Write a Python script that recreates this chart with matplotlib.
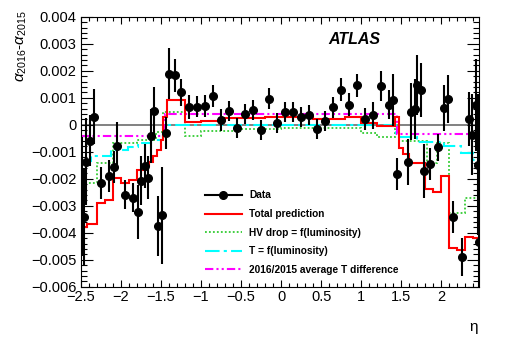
import numpy as np
import matplotlib
matplotlib.use('Agg')
import matplotlib.pyplot as plt
from matplotlib.lines import Line2D
from matplotlib.ticker import MultipleLocator, FuncFormatter

plt.rcParams['font.family'] = ['Liberation Sans', 'DejaVu Sans']
plt.rcParams['mathtext.fontset'] = 'custom'
plt.rcParams['mathtext.rm'] = 'Liberation Sans'
plt.rcParams['mathtext.it'] = 'Liberation Sans:italic'

# data points (eta, alpha2016-alpha2015 in units of 1e-3, error)
eta = [-2.48, -2.46, -2.44, -2.38, -2.33, -2.25, -2.15, -2.08, -2.05, -1.95,
       -1.85, -1.78, -1.75, -1.70, -1.66, -1.62, -1.58, -1.53, -1.49, -1.44,
       -1.40, -1.33, -1.25, -1.15, -1.05, -0.95, -0.85, -0.75, -0.65, -0.55,
       -0.45, -0.35, -0.25, -0.15, -0.05, 0.05, 0.15, 0.25, 0.35, 0.45,
       0.55, 0.65, 0.75, 0.85, 0.95, 1.05, 1.15, 1.25, 1.35, 1.40,
       1.45, 1.58, 1.62, 1.67, 1.70, 1.75, 1.79, 1.86, 1.96, 2.04,
       2.08, 2.15, 2.26, 2.35, 2.39, 2.43, 2.465, 2.475]
val = [-2.65, -3.42, -1.36, -0.58, 0.31, -2.16, -1.89, -1.57, -0.78, -2.58,
       -2.69, -3.22, -2.06, -1.52, -1.95, -0.42, 0.52, -3.75, -3.35, -0.31,
       1.89, 1.83, 1.21, 0.67, 0.68, 0.69, 1.07, 0.19, 0.52, -0.12,
       0.41, 0.56, -0.19, 0.97, 0.06, 0.46, 0.49, 0.28, 0.37, -0.17,
       0.15, 0.65, 1.30, 0.75, 1.47, 0.22, 0.36, 1.44, 0.75, 0.92,
       -1.83, -1.36, 0.49, 0.59, 1.48, 1.30, -1.72, -1.44, -0.82, 0.64,
       0.96, -3.42, -4.90, 0.21, -0.37, 0.75, -1.47, -4.32]
err = [2.2, 1.8, 1.6, 0.95, 1.0, 0.6, 0.6, 0.6, 0.9, 0.55,
       0.55, 1.0, 0.9, 0.8, 0.8, 1.0, 0.9, 1.1, 1.8, 0.6,
       0.94, 0.6, 0.5, 0.45, 0.4, 0.4, 0.42, 0.4, 0.37, 0.37,
       0.37, 0.37, 0.37, 0.4, 0.37, 0.37, 0.37, 0.37, 0.37, 0.37,
       0.37, 0.4, 0.43, 0.43, 0.43, 0.4, 0.5, 0.55, 0.55, 0.95,
       0.6, 0.85, 1.05, 1.1, 1.1, 1.0, 1.0, 0.6, 0.5, 0.85,
       0.9, 0.6, 0.7, 1.0, 1.5, 1.7, 2.6, 2.6]

# total prediction
red_edges = [-2.5, -2.42, -2.3, -2.2, -2.1, -2.0, -1.9, -1.8, -1.7, -1.65, -1.6,
             -1.55, -1.5, -1.475, -1.425, -1.2, -1.0, -0.7, -0.2, 0.4, 0.8, 1.0,
             1.2, 1.425, 1.475, 1.525, 1.6, 1.8, 1.9, 2.0, 2.1, 2.2, 2.3, 2.4, 2.475]
red_vals = [-3.77, -3.67, -2.90, -2.80, -1.98, -2.15, -2.04, -1.67, -1.54, -1.36,
            -1.17, -0.93, -0.55, 0.31, 0.93, 0.10, 0.16, 0.25, 0.31, 0.22, 0.28,
            0.08, -0.04, 0.31, -0.85, -1.07, -1.43, -2.38, -2.47, -1.90, -4.55,
            -4.65, -4.14, -4.20]

# HV drop = f(luminosity)
hv_edges = [-2.5, -2.3, -2.1, -1.8, -1.56, -1.475, -1.2, -1.0, -0.5, 0.0, 1.0,
            1.2, 1.425, 1.475, 1.82, 1.95, 2.1, 2.3, 2.475]
hv_vals = [-2.14, -1.42, -0.68, -0.56, -0.25, 0.49, -0.43, -0.21, -0.15, -0.12,
           -0.31, -0.46, -0.15, -0.60, -1.42, -0.68, -3.27, -2.72]

# T = f(luminosity)
t_edges = [-2.5, -2.37, -2.12, -1.91, -1.79, -1.62, -1.475, -1.44, 1.44, 1.475,
           1.7, 2.03, 2.25, 2.4, 2.475]
t_vals = [-1.32, -1.17, -0.93, -0.83, -0.68, -0.56, -0.33, -0.02, -0.37, -0.45,
          -0.62, -0.80, -1.05, -1.30]

# 2016/2015 average T difference
avg_edges = [-2.5, -1.45, 1.45, 2.475]
avg_vals = [-0.43, 0.40, -0.33]

s = 1e-3
fig = plt.figure(figsize=(5.05, 3.44), dpi=100)
ax = fig.add_axes([0.160, 0.166, 0.789, 0.785])

ax.axhline(0, color='#777777', lw=1.3, zorder=1)
ax.stairs(np.array(red_vals) * s, red_edges, color='#ff0000', lw=1.5, baseline=None, zorder=3,
          label='Total prediction')
ax.stairs(np.array(hv_vals) * s, hv_edges, color='#33cc33', lw=1.3, ls=(0, (1, 1.2)), baseline=None,
          zorder=2, label='HV drop = f(luminosity)')
ax.stairs(np.array(t_vals) * s, t_edges, color='#00ffff', lw=1.5, ls=(0, (7, 2, 1.5, 2)),
          baseline=None, zorder=2, label='T = f(luminosity)')
ax.stairs(np.array(avg_vals) * s, avg_edges, color='#ff00ff', lw=1.5,
          ls=(0, (4, 1.5, 1, 1.5, 1, 1.5)), baseline=None, zorder=2,
          label='2016/2015 average T difference')
ax.errorbar(eta, np.array(val) * s, yerr=np.array(err) * s, fmt='o', color='black',
            ms=5.5, elinewidth=1.5, capsize=0, zorder=4)

ax.set_xlim(-2.5, 2.475)
ax.set_ylim(-0.006, 0.004)
ax.xaxis.set_major_locator(MultipleLocator(0.5))
ax.xaxis.set_minor_locator(MultipleLocator(0.1))
ax.yaxis.set_major_locator(MultipleLocator(0.001))
ax.yaxis.set_minor_locator(MultipleLocator(0.0002))

def fmt_x(v, p):
    if abs(v) < 1e-9:
        return '0'
    return ('%g' % v).replace('-', '\u2212')

def fmt_y(v, p):
    if abs(v) < 1e-9:
        return '0'
    return ('%.3f' % v).replace('-', '\u2212')

ax.xaxis.set_major_formatter(FuncFormatter(fmt_x))
ax.yaxis.set_major_formatter(FuncFormatter(fmt_y))
ax.tick_params(axis='both', which='both', direction='in', top=True, right=True,
               labelsize=10.5, width=0.8)
ax.tick_params(axis='x', which='major', length=5, pad=2)
ax.tick_params(axis='x', which='minor', length=2.8)
ax.tick_params(axis='y', which='major', length=8.5, pad=3)
ax.tick_params(axis='y', which='minor', length=4.3)
for sp in ax.spines.values():
    sp.set_linewidth(0.8)

ax.text(0.62, 0.915, 'ATLAS', transform=ax.transAxes, fontsize=11.5,
        fontweight='bold', fontstyle='italic', ha='left', va='center')

fig.text(478 / 505, 1 - 327 / 344, '\u03b7', fontsize=11, ha='right', va='center')
fig.text(22 / 505, 1 - 10 / 344, r'$\alpha_{2016}$-$\alpha_{2015}$', fontsize=11,
         rotation=90, ha='center', va='top')

handles, labels = ax.get_legend_handles_labels()
data_handle = Line2D([], [], color='black', marker='o', ms=5.5, lw=1.5)
hmap = dict(zip(labels, handles))
hmap['Data'] = data_handle
order = ['Data', 'Total prediction', 'HV drop = f(luminosity)', 'T = f(luminosity)',
         '2016/2015 average T difference']
ax.legend([hmap[k] for k in order], order, loc='upper left', bbox_to_anchor=(0.312, 0.357),
          frameon=False, prop={'size': 7.3, 'weight': 'bold'}, handlelength=3.6,
          handletextpad=0.75, labelspacing=0.85, borderpad=0, borderaxespad=0)

fig.savefig('out.png', dpi=100)
